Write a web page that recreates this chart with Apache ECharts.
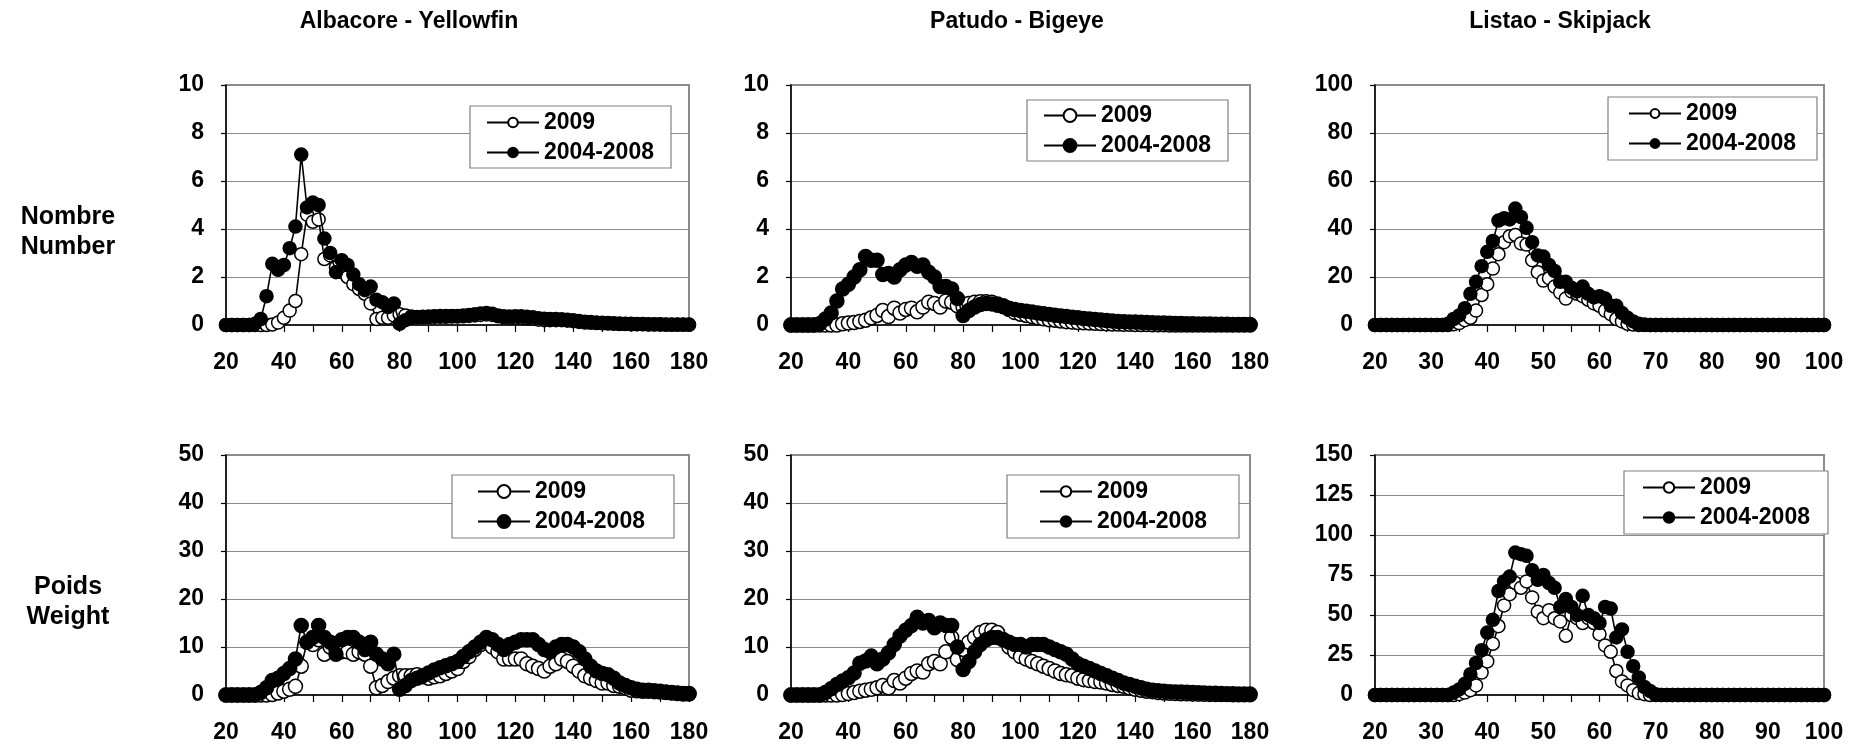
<!DOCTYPE html>
<html>
<head>
<meta charset="utf-8">
<script src="https://cdn.jsdelivr.net/npm/echarts@6/dist/echarts.min.js"></script>
<style>
html,body{margin:0;padding:0;background:#fff;}
#chart{width:1859px;height:751px;}
</style>
</head>
<body>
<div id="chart"></div>
<script>
// ---------- DATA ----------
const panelTitles = ['Albacore - Yellowfin', 'Patudo - Bigeye', 'Listao - Skipjack'];
const rowLabels = ['Nombre\nNumber', 'Poids\nWeight'];
const seriesNames = ['2009', '2004-2008'];

// length classes (cm), 2 cm bins for yellowfin & bigeye, 1 cm bins for skipjack
const xLen2 = [20,22,24,26,28,30,32,34,36,38,40,42,44,46,48,50,52,54,56,58,60,62,64,66,68,70,72,74,76,78,80,82,84,86,88,90,92,94,96,98,100,102,104,106,108,110,112,114,116,118,120,122,124,126,128,130,132,134,136,138,140,142,144,146,148,150,152,154,156,158,160,162,164,166,168,170,172,174,176,178,180];
const xLen1 = [20,21,22,23,24,25,26,27,28,29,30,31,32,33,34,35,36,37,38,39,40,41,42,43,44,45,46,47,48,49,50,51,52,53,54,55,56,57,58,59,60,61,62,63,64,65,66,67,68,69,70,71,72,73,74,75,76,77,78,79,80,81,82,83,84,85,86,87,88,89,90,91,92,93,94,95,96,97,98,99,100];

// Yellowfin - number
const yftNum2009 = [0,0,0,0,0,0,0,0,0.02,0.1,0.3,0.6,1.0,2.95,4.6,4.3,4.4,2.75,2.9,2.4,2.2,2.0,1.7,1.5,1.3,0.9,0.25,0.3,0.3,0.4,0.45,0.4,0.35,0.33,0.33,0.33,0.34,0.34,0.34,0.35,0.35,0.36,0.38,0.4,0.42,0.44,0.42,0.36,0.32,0.3,0.3,0.3,0.28,0.26,0.22,0.2,0.2,0.2,0.2,0.18,0.16,0.13,0.1,0.09,0.08,0.07,0.06,0.05,0.04,0.04,0.03,0.03,0.03,0.02,0.02,0.02,0.01,0.01,0.01,0.01,0.01];
const yftNum0408 = [0,0,0,0,0,0.05,0.25,1.2,2.55,2.3,2.5,3.2,4.1,7.1,4.9,5.1,5.0,3.6,3.0,2.2,2.7,2.5,2.1,1.7,1.45,1.6,1.05,0.95,0.75,0.9,0.05,0.2,0.3,0.32,0.34,0.35,0.36,0.37,0.37,0.38,0.38,0.4,0.42,0.45,0.48,0.5,0.47,0.4,0.36,0.35,0.36,0.36,0.34,0.32,0.28,0.26,0.25,0.25,0.24,0.22,0.2,0.17,0.14,0.12,0.1,0.09,0.08,0.07,0.06,0.05,0.05,0.04,0.04,0.03,0.03,0.03,0.02,0.02,0.02,0.02,0.02];

// Bigeye - number
const betNum2009 = [0,0,0,0,0,0,0,0,0.0,0.05,0.08,0.1,0.15,0.2,0.3,0.4,0.6,0.35,0.7,0.5,0.65,0.7,0.55,0.75,0.95,0.9,0.75,1.0,0.95,0.8,0.75,0.9,0.95,0.97,0.97,0.95,0.88,0.8,0.65,0.52,0.45,0.4,0.35,0.3,0.26,0.22,0.2,0.17,0.14,0.12,0.1,0.09,0.08,0.07,0.06,0.05,0.04,0.04,0.03,0.03,0.02,0.02,0.02,0.01,0.01,0.01,0,0,0,0,0,0,0,0,0,0,0,0,0,0,0];
const betNum0408 = [0,0,0,0,0,0.05,0.25,0.5,1.0,1.5,1.7,2.0,2.3,2.85,2.7,2.7,2.1,2.15,2.0,2.3,2.5,2.6,2.45,2.5,2.2,2.0,1.6,1.6,1.5,1.1,0.4,0.6,0.75,0.85,0.9,0.88,0.82,0.76,0.7,0.65,0.6,0.57,0.54,0.5,0.47,0.44,0.41,0.38,0.35,0.32,0.3,0.27,0.25,0.23,0.21,0.19,0.17,0.15,0.14,0.13,0.12,0.11,0.1,0.09,0.08,0.08,0.07,0.06,0.06,0.05,0.05,0.04,0.04,0.04,0.03,0.03,0.03,0.02,0.02,0.02,0.02];

// Skipjack - number
const skjNum2009 = [0,0,0,0,0,0,0,0,0,0,0,0,0,0,0.3,0.8,2,3,6,12.5,17,23.5,29.5,34.5,37,37.5,34,33.5,27,22,18.5,19.5,16,13.5,11,14,13,12,10.5,9,8,6,4.5,2.5,1.5,0.5,0.2,0,0,0,0,0,0,0,0,0,0,0,0,0,0,0,0,0,0,0,0,0,0,0,0,0,0,0,0,0,0,0,0,0,0];
const skjNum0408 = [0,0,0,0,0,0,0,0,0,0,0,0,0,0.5,2.5,4,7,13,18,24.5,30.5,35,43.5,44.5,44,48.5,45,40.5,34.5,29,28.5,25,22.5,18,18,15.5,14,16,13,11.5,12,11,8,8,5,3,1.5,0.5,0.2,0,0,0,0,0,0,0,0,0,0,0,0,0,0,0,0,0,0,0,0,0,0,0,0,0,0,0,0,0,0,0,0];

// Yellowfin - weight
const yftWt2009 = [0,0,0,0,0,0,0,0,0.1,0.4,0.8,1.2,1.8,6,11,10.5,11.5,8.5,10,9.5,9,9,8.5,9,8.5,6,1.5,2,2.8,3.5,4,4,4,4.2,3.8,3.5,3.8,4,4.5,5,5.5,7,8,9.5,10.5,11.5,10,9,7.5,7.5,7.5,7.5,6.5,6,5.5,5,6,6.5,7.5,7,6,5,4,3.5,3,2.5,2.5,2,1.8,1.5,1,0.9,0.8,0.8,0.7,0.6,0.5,0.4,0.3,0.2,0.2];
const yftWt0408 = [0,0,0,0,0,0,0.5,1.5,3,3.5,4.5,5.5,7.5,14.5,11,12,14.5,12,11,8.5,11.5,12,12,11,9.5,11,8.5,7.5,6.5,8.5,1.2,2,3,3.5,4,4.6,5.2,5.7,6.1,6.5,7,8,9,10,11,12,11.5,10.5,9.5,10.5,11,11.5,11.5,11.5,10.5,9.5,9,10,10.5,10.5,10,9,7.5,6,5,4.5,4.2,3.5,2.5,2,1.5,1.2,1.0,1.0,0.9,0.8,0.6,0.5,0.4,0.3,0.3];

// Bigeye - weight
const betWt2009 = [0,0,0,0,0,0,0,0,0,0.1,0.3,0.5,0.8,1.0,1.2,1.5,2,1.5,3,2.5,3.5,4.5,5,4.8,6.5,7,6.5,9,12,7.4,9.5,11,12,13,13.5,13.5,13,11.5,10,9,8,7.5,7,6.5,6,5.5,5,4.5,4.2,4,3.5,3.2,3,2.8,2.7,2.5,2.2,2,1.8,1.5,1.2,1,0.8,0.7,0.5,0.4,0.35,0.3,0.28,0.25,0.2,0.18,0.15,0.13,0.12,0.1,0.08,0.07,0.06,0.05,0.05];
const betWt0408 = [0,0,0,0,0,0,0.5,1.3,2.2,2.9,3.6,4.6,6.6,7.1,8.1,6.5,7.5,8.8,10.5,12.3,13.5,14.5,16.2,15,15.5,14,15,14.5,14.5,10,5.3,7,9,10.5,11.5,12,12,11.5,11,10.5,10.5,10,10.5,10.5,10.5,10,9.5,9,8.5,7.5,6.5,6,5.5,5,4.5,4,3.5,3,2.5,2.2,1.8,1.5,1.2,1.0,0.9,0.8,0.7,0.65,0.6,0.55,0.5,0.45,0.4,0.38,0.35,0.3,0.28,0.25,0.22,0.2,0.2];

// Skipjack - weight
const skjWt2009 = [0,0,0,0,0,0,0,0,0,0,0,0,0,0,0,0.5,1.5,3,6,14,21,32,43,56,63,70,67,71,61,52,48,53,48,46,37,50,48,45,48,45,38,31,27,15,8.5,6,3,1.2,0.5,0,0,0,0,0,0,0,0,0,0,0,0,0,0,0,0,0,0,0,0,0,0,0,0,0,0,0,0,0,0,0,0];
const skjWt0408 = [0,0,0,0,0,0,0,0,0,0,0,0,0,0,1.5,3.5,7,13,20,28,39,47,65,71,74,89,88,87,78,72,75,70,67,55,60,55,50,62,50,48,45,55,54,36,41,27,18,11,5,2.5,0.5,0,0,0,0,0,0,0,0,0,0,0,0,0,0,0,0,0,0,0,0,0,0,0,0,0,0,0,0,0,0];

// axis ranges / ticks
const xRanges = [[20,180,20],[20,180,20],[20,100,10]];
const yRanges = [[10,2],[10,2],[100,20],[50,10],[50,10],[150,25]];

// ---------- LAYOUT ----------
const FONT = 'Arial, "Liberation Sans", sans-serif';
const gridBoxes = [
  {left:226, width:463, top:85, height:240},
  {left:791, width:459, top:85, height:240},
  {left:1375, width:449, top:85, height:240},
  {left:226, width:463, top:455, height:240},
  {left:791, width:459, top:455, height:240},
  {left:1375, width:449, top:455, height:240}
];
const legendBoxes = [
  {left:470, top:106, padding:[5,17,4,16], itemHeight:12},
  {left:1027, top:100, padding:[4,17,4,16], itemHeight:16},
  {left:1608, top:97, padding:[5,21,5,20], itemHeight:11},
  {left:452, top:475, padding:[5,29,5,25], itemHeight:16},
  {left:1007, top:475, padding:[5,32,5,32], itemHeight:13},
  {left:1624, top:471, padding:[5,18,5,18], itemHeight:13}
];
const markerSizes = [13, 14, 13, 14, 14, 13];

const panelData = [
  [xLen2, yftNum2009, yftNum0408],
  [xLen2, betNum2009, betNum0408],
  [xLen1, skjNum2009, skjNum0408],
  [xLen2, yftWt2009, yftWt0408],
  [xLen2, betWt2009, betWt0408],
  [xLen1, skjWt2009, skjWt0408]
];

const grids = [], xAxes = [], yAxes = [], series = [], legends = [];
const labelStyle = {fontFamily: FONT, fontWeight: 'bold', fontSize: 23, color: '#000'};

panelData.forEach((pd, i) => {
  const col = i % 3;
  const xr = xRanges[col];
  const yr = yRanges[i];
  grids.push(Object.assign({
    show: true, borderColor: '#8c8c8c', borderWidth: 2, backgroundColor: '#fff',
    containLabel: false, outerBoundsMode: 'none'
  }, gridBoxes[i]));
  xAxes.push({
    type: 'value', gridIndex: i, min: xr[0], max: xr[1], interval: xr[2],
    axisLine: {show: true, onZero: false, lineStyle: {color: '#000', width: 1.5}},
    axisTick: {show: true, inside: false, length: 7, lineStyle: {color: '#000', width: 1.2}},
    minorTick: {show: true, splitNumber: 2, length: 7, lineStyle: {color: '#000', width: 1.2}},
    axisLabel: Object.assign({margin: 26}, labelStyle),
    splitLine: {show: false}
  });
  yAxes.push({
    type: 'value', gridIndex: i, min: 0, max: yr[0], interval: yr[1],
    axisLine: {show: true, lineStyle: {color: '#000', width: 1.5}},
    axisTick: {show: true, inside: false, length: 5, lineStyle: {color: '#000', width: 1.2}},
    axisLabel: Object.assign({margin: 22}, labelStyle),
    splitLine: {show: true, lineStyle: {color: '#8a8a8a', width: 1}}
  });
  const xs = pd[0];
  [pd[1], pd[2]].forEach((ys, k) => {
    series.push({
      name: seriesNames[k], type: 'line', xAxisIndex: i, yAxisIndex: i,
      data: xs.map((x, j) => [x, ys[j]]),
      symbol: 'circle', symbolSize: markerSizes[i], showSymbol: true,
      clip: false, animation: false, z: 2 + k,
      lineStyle: {color: '#000', width: 1.6},
      itemStyle: {color: k === 0 ? '#fff' : '#000', borderColor: '#000', borderWidth: 1.5, opacity: 1}
    });
  });
  const lb = legendBoxes[i];
  legends.push({
    data: seriesNames.slice(), orient: 'vertical', selectedMode: false,
    left: lb.left, top: lb.top, padding: lb.padding,
    itemGap: 7, itemWidth: 52, itemHeight: lb.itemHeight,
    backgroundColor: '#fff', borderColor: '#808080', borderWidth: 1.2,
    textStyle: {fontFamily: FONT, fontWeight: 'bold', fontSize: 23, color: '#000', padding: [0,0,0,0]},
    z: 10
  });
});

const titleX = [409, 1017, 1560];
const graphics = [];
panelTitles.forEach((t, i) => {
  graphics.push({type: 'text', x: titleX[i], y: 22, z: 20,
    style: {text: t, align: 'center', verticalAlign: 'middle', textAlign: 'center', textVerticalAlign: 'middle',
      font: 'bold 23px ' + FONT, fill: '#000'}});
});
const rowY = [232, 602];
rowLabels.forEach((t, i) => {
  graphics.push({type: 'text', x: 68, y: rowY[i], z: 20,
    style: {text: t, align: 'center', verticalAlign: 'middle', textAlign: 'center', textVerticalAlign: 'middle',
      font: 'bold 25px ' + FONT, lineHeight: 30, fill: '#000'}});
});

const chart = echarts.init(document.getElementById('chart'), null, {renderer: 'canvas'});
chart.setOption({
  animation: false,
  backgroundColor: '#fff',
  grid: grids, xAxis: xAxes, yAxis: yAxes, series: series, legend: legends,
  graphic: graphics
});
</script>
</body>
</html>
